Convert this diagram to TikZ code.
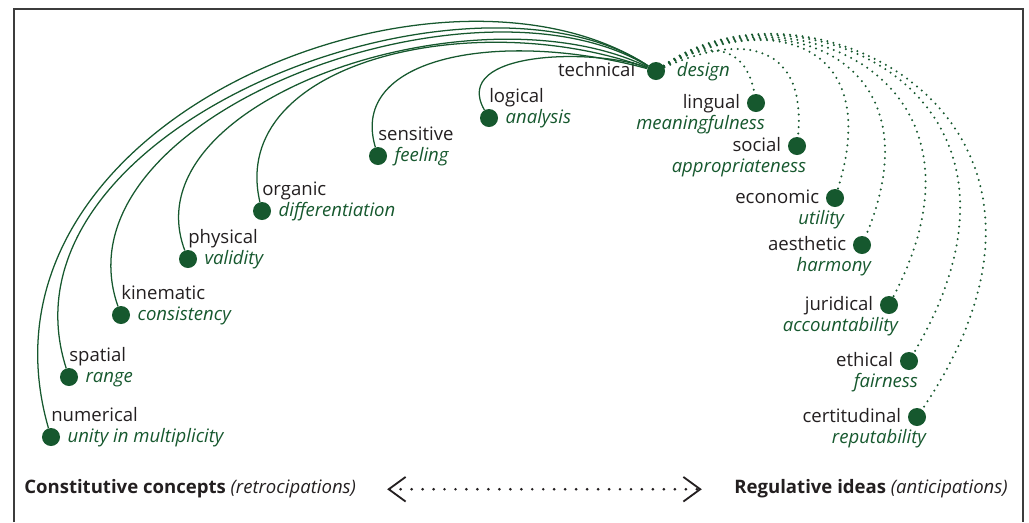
\documentclass[tikz,border=0pt]{standalone}
\usepackage{fontspec}
\setmainfont{Open Sans}
\usetikzlibrary{positioning}
\usetikzlibrary{arrows.meta}
\definecolor{aspectgreen}{RGB}{22,88,46}
\definecolor{inkgray}{RGB}{35,31,32}
\definecolor{framegray}{RGB}{60,60,60}

\begin{document}
\begin{tikzpicture}[x=0.025cm,y=-0.025cm]
  \tikzset{
    aspect/.style={circle, fill=aspectgreen, inner sep=0pt, minimum size=0.45cm},
    aspectname/.style={inner sep=0pt, text=inkgray, font=\fontsize{13.2}{15}\selectfont},
    aspectidea/.style={inner sep=0pt, text=aspectgreen, font=\fontsize{13.2}{15}\selectfont\itshape},
    caption/.style={inner sep=0pt, text=inkgray, font=\fontsize{13.2}{15}\selectfont},
    retro/.style={draw=aspectgreen, line width=0.9pt},
    antic/.style={draw=aspectgreen, line width=1.6pt, line cap=round, dash pattern=on 0pt off 4.5pt},
    ideaarrow/.style={draw=inkgray, line width=2.1pt, line cap=round, dash pattern=on 0pt off 7.8pt,
      shorten <=22pt, shorten >=23pt, <->, >={Straight Barb[length=12pt,width=17.5pt,line width=1.3pt]}},
  }
  \useasboundingbox (0,0) rectangle (1029,522);
  \draw[framegray, line width=1.5pt] (14,522) -- (14,9) -- (1023,9) -- (1023,522);

  % the technical aspect
  \node[aspect] (tech) at (656,71) {};
  \node[aspectname, left=8pt of tech, anchor=mid east, yshift=-1pt] {technical};
  \node[aspectidea, right=8pt of tech, anchor=mid west, yshift=-1pt] {design};

  % earlier aspects (retrocipations)
  \node[aspect] (logi) at (489,118) {};
  \node[aspectname, above=4.6pt of logi.north, anchor=base west] {logical};
  \node[aspectidea, right=5pt of logi, anchor=mid west, yshift=-1pt] {analysis};
  \node[aspect] (sens) at (378,156) {};
  \node[aspectname, above=4.6pt of sens.north, anchor=base west] {sensitive};
  \node[aspectidea, right=5pt of sens, anchor=mid west, yshift=-1pt] {feeling};
  \node[aspect] (orga) at (262,211) {};
  \node[aspectname, above=4.6pt of orga.north, anchor=base west] {organic};
  \node[aspectidea, right=5pt of orga, anchor=mid west, yshift=-1pt] {differentiation};
  \node[aspect] (phys) at (188,259) {};
  \node[aspectname, above=4.6pt of phys.north, anchor=base west] {physical};
  \node[aspectidea, right=5pt of phys, anchor=mid west, yshift=-1pt] {validity};
  \node[aspect] (kine) at (121,315) {};
  \node[aspectname, above=4.6pt of kine.north, anchor=base west] {kinematic};
  \node[aspectidea, right=5pt of kine, anchor=mid west, yshift=-1pt] {consistency};
  \node[aspect] (spat) at (69,377) {};
  \node[aspectname, above=4.6pt of spat.north, anchor=base west] {spatial};
  \node[aspectidea, right=5pt of spat, anchor=mid west, yshift=-1pt] {range};
  \node[aspect] (nume) at (51,437) {};
  \node[aspectname, above=4.6pt of nume.north, anchor=base west] {numerical};
  \node[aspectidea, right=5pt of nume, anchor=mid west, yshift=-1pt] {unity in multiplicity};

  % later aspects (anticipations)
  \node[aspect] (ling) at (756,103) {};
  \node[aspectname, left=4.5pt of ling, anchor=mid east, yshift=-1pt] {lingual};
  \node[aspectidea, below=18.8pt of ling.east, anchor=base east] {meaningfulness};
  \node[aspect] (soci) at (797,146) {};
  \node[aspectname, left=4.5pt of soci, anchor=mid east, yshift=-1pt] {social};
  \node[aspectidea, below=18.8pt of soci.east, anchor=base east] {appropriateness};
  \node[aspect] (econ) at (835,198) {};
  \node[aspectname, left=4.5pt of econ, anchor=mid east, yshift=-1pt] {economic};
  \node[aspectidea, below=18.8pt of econ.east, anchor=base east] {utility};
  \node[aspect] (aest) at (862,245) {};
  \node[aspectname, left=4.5pt of aest, anchor=mid east, yshift=-1pt] {aesthetic};
  \node[aspectidea, below=18.8pt of aest.east, anchor=base east] {harmony};
  \node[aspect] (juri) at (889,305) {};
  \node[aspectname, left=4.5pt of juri, anchor=mid east, yshift=-1pt] {juridical};
  \node[aspectidea, below=18.8pt of juri.east, anchor=base east] {accountability};
  \node[aspect] (ethi) at (909,361) {};
  \node[aspectname, left=4.5pt of ethi, anchor=mid east, yshift=-1pt] {ethical};
  \node[aspectidea, below=18.8pt of ethi.east, anchor=base east] {fairness};
  \node[aspect] (cert) at (917,417) {};
  \node[aspectname, left=4.5pt of cert, anchor=mid east, yshift=-1pt] {certitudinal};
  \node[aspectidea, below=18.8pt of cert.east, anchor=base east] {reputability};

  % retrocipations
  \draw[retro] (tech) .. controls +(-216,-141) and +(-91,-317) .. (nume);
  \draw[retro] (tech) .. controls +(-190,-125) and +(-80,-250) .. (spat);
  \draw[retro] (tech) .. controls +(-180,-110) and +(-70,-200) .. (kine);
  \draw[retro] (tech) .. controls +(-180,-87) and +(-60,-160) .. (phys);
  \draw[retro] (tech) .. controls +(-180,-66) and +(-35,-150) .. (orga);
  \draw[retro] (tech) .. controls +(-155,-42) and +(-30,-100) .. (sens);
  \draw[retro] (tech) .. controls +(-60,-23) and +(-39,-68) .. (logi);

  % anticipations
  \draw[antic] (tech) .. controls +(50,-30) and +(-10,-60) .. (ling);
  \draw[antic] (tech) .. controls +(90,-40) and +(10,-100) .. (soci);
  \draw[antic] (tech) .. controls +(110,-60) and +(50,-160) .. (econ);
  \draw[antic] (tech) .. controls +(120,-72) and +(80,-190) .. (aest);
  \draw[antic] (tech) .. controls +(130,-85) and +(120,-230) .. (juri);
  \draw[antic] (tech) .. controls +(140,-96) and +(160,-270) .. (ethi);
  \draw[antic] (tech) .. controls +(150,-108) and +(203,-300) .. (cert);

  % legend
  \node[caption, anchor=base west] (constit) at (24,493) {\textbf{Constitutive concepts} \textit{(retrocipations)}};
  \node[caption, anchor=base east] (regul) at (1008,493) {\textbf{Regulative ideas} \textit{(anticipations)}};
  \draw[ideaarrow] (constit.mid east) -- (regul.mid west);
\end{tikzpicture}
\end{document}
